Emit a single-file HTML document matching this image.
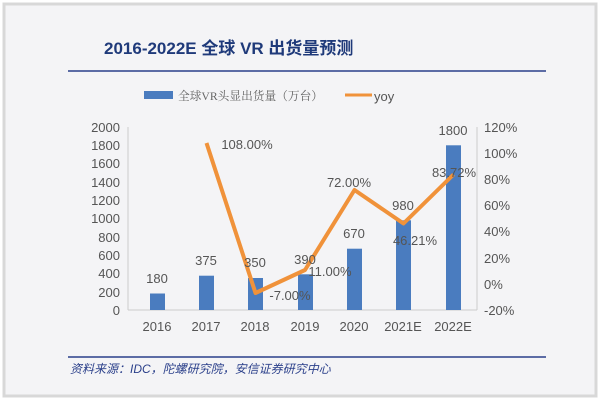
<!DOCTYPE html><html><head><style>body{margin:0}</style></head><body>
<svg width="600" height="400" xmlns="http://www.w3.org/2000/svg" font-family="Liberation Sans, Noto Sans CJK SC, sans-serif">
<rect width="600" height="400" fill="#fff"/>
<rect x="4" y="4" width="592" height="392" fill="#f4f4f6" stroke="#d8d8d8" stroke-width="3"/>
<text x="104" y="54" font-size="17" font-weight="bold" fill="#1f3a7a">2016-2022E 全球 VR 出货量预测</text>
<line x1="68" y1="71" x2="546" y2="71" stroke="#2a3f8a" stroke-width="1.5"/>
<rect x="144" y="91" width="29" height="8" fill="#4a7cbf"/>
<text x="178" y="100" font-size="12" fill="#666" textLength="145" lengthAdjust="spacingAndGlyphs" font-family="Liberation Serif, Noto Serif CJK SC, serif">全球VR头显出货量（万台）</text>
<line x1="345" y1="95" x2="372" y2="95" stroke="#f0923a" stroke-width="3"/>
<text x="374" y="101" font-size="13" fill="#555">yoy</text>
<g font-size="13" fill="#555" text-anchor="end">
<text x="120" y="132">2000</text><text x="120" y="150">1800</text><text x="120" y="168">1600</text><text x="120" y="187">1400</text><text x="120" y="205">1200</text><text x="120" y="223">1000</text><text x="120" y="242">800</text><text x="120" y="260">600</text><text x="120" y="278">400</text><text x="120" y="297">200</text><text x="120" y="315">0</text>
</g>
<g font-size="13" fill="#555">
<text x="484" y="132">120%</text><text x="484" y="158">100%</text><text x="484" y="184">80%</text><text x="484" y="210">60%</text><text x="484" y="236">40%</text><text x="484" y="263">20%</text><text x="484" y="289">0%</text><text x="484" y="315">-20%</text>
</g>
<line x1="128" y1="310" x2="477" y2="310" stroke="#ccc"/>
<line x1="128" y1="127" x2="128" y2="310" stroke="#ccc"/>
<line x1="477" y1="127" x2="477" y2="310" stroke="#ccc"/>
<g fill="#4a7cbf">
<rect x="150" y="293.5" width="15" height="16.5"/>
<rect x="199" y="275.7" width="15" height="34.3"/>
<rect x="248" y="278" width="15" height="32"/>
<rect x="298" y="274.3" width="15" height="35.7"/>
<rect x="347" y="248.7" width="15" height="61.3"/>
<rect x="396" y="220.3" width="15" height="89.7"/>
<rect x="446" y="145.3" width="15" height="164.7"/>
</g>
<polyline points="206.5,143 255.5,293 305,270 354.5,190 403.5,223.5 453.5,174.5" fill="none" stroke="#f0923a" stroke-width="4" stroke-linejoin="round"/>
<g font-size="13" fill="#555" text-anchor="middle">
<text x="157" y="283">180</text><text x="206" y="265">375</text><text x="255" y="267">350</text><text x="305" y="264">390</text><text x="354" y="238">670</text><text x="403" y="210">980</text><text x="453" y="135">1800</text>
<text x="247" y="149">108.00%</text><text x="290" y="300">-7.00%</text><text x="330" y="276">11.00%</text><text x="349" y="187">72.00%</text><text x="415" y="245">46.21%</text><text x="454" y="177">83.72%</text>
<text x="157" y="331">2016</text><text x="206" y="331">2017</text><text x="255" y="331">2018</text><text x="305" y="331">2019</text><text x="354" y="331">2020</text><text x="403" y="331">2021E</text><text x="453" y="331">2022E</text>
</g>
<line x1="68" y1="357" x2="546" y2="357" stroke="#2a3f8a" stroke-width="1.5"/>
<text x="70" y="373" font-size="12" font-style="italic" fill="#2a3f8a">资料来源：IDC，陀螺研究院，安信证券研究中心</text>
</svg>
</body></html>
